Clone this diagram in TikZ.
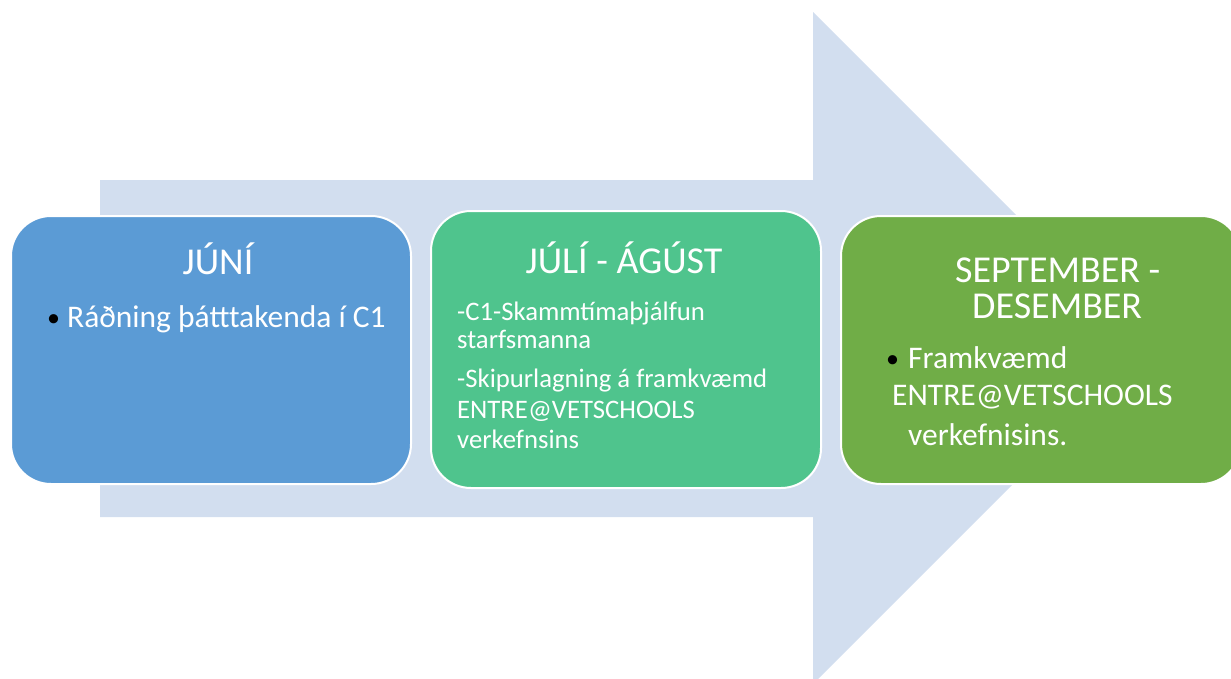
\documentclass[tikz,border=0pt]{standalone}
\usepackage{fontspec}
\setmainfont{Carlito}
\usetikzlibrary{positioning}
\definecolor{arrowblue}{HTML}{D2DEEF}
\definecolor{juneblue}{HTML}{5B9BD5}
\definecolor{julygreen}{HTML}{4FC48D}
\definecolor{septgreen}{HTML}{70AD47}

\begin{document}
\begin{tikzpicture}[x=1pt,y=-1pt,
    phase/.style={draw=white, line width=2pt, rounded corners=40pt, anchor=north west, inner sep=0pt},
    heading/.style={text=white, font=\fontsize{38}{46}\selectfont, inner sep=0pt},
    bigitem/.style={text=white, font=\fontsize{31.5}{38}\selectfont, anchor=base west, inner sep=0pt},
    smallitem/.style={text=white, font=\fontsize{26.7}{32}\selectfont, anchor=base west, inner sep=0pt},
    bulletmark/.style={text=black, font=\fontsize{26}{32}\selectfont, anchor=base west, inner sep=0pt}]
    \useasboundingbox (0,0) rectangle (1231,678);

    % Big arrow behind the boxes
    \fill[arrowblue] (100,180) -- (813,180) -- (813,12) -- (1149,348)
        -- (813,684) -- (813,517) -- (100,517) -- cycle;

    % Boxes
    \node[phase, fill=juneblue, minimum width=400pt, minimum height=268pt] (jun) at (10,215) {};
    \node[phase, fill=julygreen, minimum width=390pt, minimum height=277pt] (jul) at (430,210) {};
    \node[phase, fill=septgreen, minimum width=400pt, minimum height=268pt] (sep) at (840,215) {};

    % JUNI
    \node[heading, anchor=base] (junhead) at (218,274) {JÚNÍ};
    \node[bulletmark] (junbul) at (47,326) {•};
    \node[bigitem] (junitem) at (67,327) {Ráðning þátttakenda í C1};

    % JULI - AGUST
    \node[heading, anchor=base] (julhead) at (624,273) {JÚLÍ - ÁGÚST};
    \node[smallitem] (julline1) at (457,320) {-C1-Skammtímaþjálfun};
    \node[smallitem] (julline2) at (457,348) {starfsmanna};
    \node[smallitem] (julline3) at (457,387) {-Skipurlagning á framkvæmd};
    \node[smallitem] (julline4) at (457,418) {ENTRE@VETSCHOOLS};
    \node[smallitem] (julline5) at (457,448) {verkefnsins};

    % SEPTEMBER - DESEMBER
    \node[heading, anchor=base west] (sephead1) at (955,282) {SEPTEMBER -};
    \node[heading, anchor=base west] (sephead2) at (972,318) {DESEMBER};
    \node[bulletmark] (sepbul) at (886,367) {•};
    \node[bigitem] (sepline1) at (908,368) {Framkvæmd};
    \node[bigitem] (sepline2) at (892,405) {ENTRE@VETSCHOOLS};
    \node[bigitem] (sepline3) at (908,445) {verkefnisins.};
\end{tikzpicture}
\end{document}
